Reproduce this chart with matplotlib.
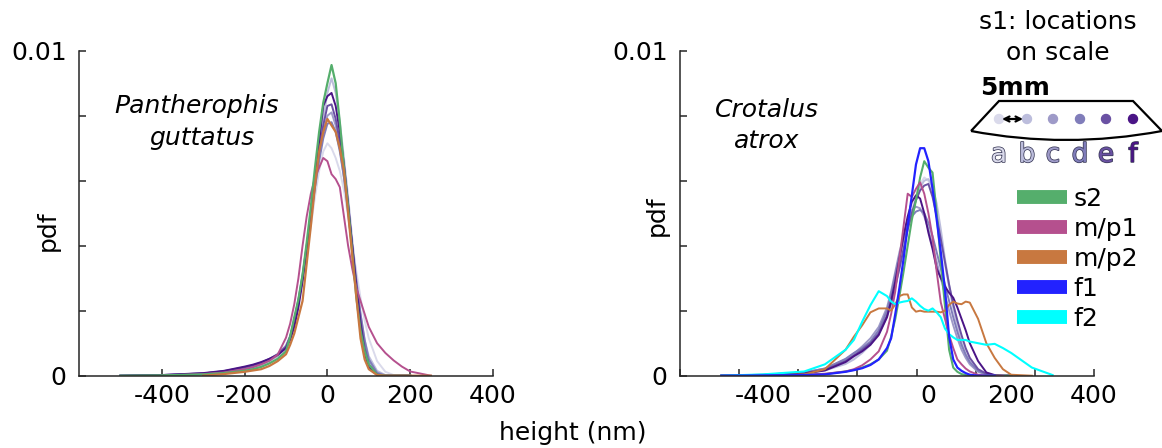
import numpy as np
import matplotlib
matplotlib.use('Agg')
import matplotlib.pyplot as plt
import matplotlib.patheffects as pe
from matplotlib.lines import Line2D
from matplotlib.path import Path
from matplotlib.patches import Circle, PathPatch

plt.rcParams['font.family'] = 'DejaVu Sans'
plt.rcParams['font.size'] = 18
plt.rcParams['axes.unicode_minus'] = False

# height grid (nm) shared by every density curve
height = [-500, -400, -300, -250, -200, -180, -160, -140, -120, -100, -90, -80, -70, -60,
          -50, -40, -30, -20, -10, 0, 10, 20, 30, 40, 50, 60, 70, 80, 90, 100,
          120, 140, 160, 180, 200, 250, 300]

# Pantherophis guttatus, pdf x 1e-3
pg_a = [0, 0.01, 0.06, 0.12, 0.22, 0.28, 0.36, 0.5, 0.68, 0.95, 1.25, 1.75, 2.3, 3.0, 3.8, 4.6, 5.5, 6.3, 6.9,
        7.15, 7.0, 6.7, 6.3, 5.7, 4.9, 4.0, 3.2, 2.4, 1.7, 1.15, 0.45, 0.12, 0.02, 0, 0, None, None]
pg_b = [0, 0.01, 0.05, 0.1, 0.18, 0.24, 0.32, 0.45, 0.6, 0.85, 1.15, 1.7, 2.3, 3.1, 4.0, 5.0, 6.1, 7.0, 7.9,
        8.7, 9.15, 8.7, 7.8, 6.7, 5.5, 4.2, 3.0, 1.9, 1.1, 0.6, 0.15, 0.02, 0, 0, 0, None, None]
pg_c = [0, 0.01, 0.06, 0.12, 0.22, 0.28, 0.36, 0.48, 0.62, 0.88, 1.2, 1.7, 2.3, 3.0, 3.9, 4.8, 5.8, 6.7, 7.5,
        8.0, 8.1, 7.7, 7.0, 6.1, 5.0, 3.9, 2.8, 1.8, 1.0, 0.5, 0.1, 0.01, 0, 0, 0, None, None]
pg_d = [0, 0.02, 0.07, 0.13, 0.24, 0.3, 0.38, 0.5, 0.65, 0.9, 1.2, 1.7, 2.35, 3.1, 4.0, 4.9, 5.8, 6.6, 7.3,
        7.75, 7.8, 7.5, 6.9, 6.1, 5.1, 4.0, 2.9, 1.9, 1.1, 0.5, 0.08, 0, 0, 0, 0, None, None]
pg_e = [0, 0.02, 0.07, 0.14, 0.26, 0.32, 0.4, 0.52, 0.66, 0.9, 1.2, 1.65, 2.25, 3.0, 3.9, 4.9, 5.9, 6.9, 7.7,
        8.3, 8.35, 7.9, 7.2, 6.3, 5.2, 4.0, 2.8, 1.7, 0.85, 0.35, 0.04, 0, 0, 0, 0, None, None]
pg_f = [0, 0.02, 0.08, 0.15, 0.28, 0.34, 0.42, 0.52, 0.64, 0.85, 1.1, 1.5, 2.1, 2.9, 3.9, 5.0, 6.1, 7.2, 8.3,
        8.6, 8.7, 8.3, 7.5, 6.5, 5.3, 4.0, 2.7, 1.6, 0.7, 0.25, 0.02, 0, 0, 0, 0, None, None]
pg_s2 = [0, 0.01, 0.04, 0.08, 0.15, 0.2, 0.27, 0.38, 0.52, 0.75, 1.2, 1.8, 2.35, 3.1, 4.1, 5.2, 6.4, 7.5, 8.4,
         9.0, 9.56, 9.0, 7.8, 6.4, 5.2, 3.8, 2.4, 1.4, 0.75, 0.35, 0.03, 0, 0, 0, 0, None, None]
pg_mp1 = [None, 0, 0.05, 0.1, 0.2, 0.26, 0.35, 0.46, 0.65, 1.17, 1.6, 2.2, 3.0, 4.0, 4.9, 5.6, 6.1, 6.4, 6.7,
          6.6, 6.2, 6.05, 5.8, 4.9, 4.0, 3.3, 2.7, 2.3, 1.9, 1.5, 1.0, 0.7, 0.47, 0.28, 0.13, 0, None]
pg_mp2 = [None, None, 0, 0.05, 0.12, 0.16, 0.2, 0.3, 0.45, 0.66, 0.95, 1.3, 1.8, 2.3, 3.45, 4.6, 5.85, 6.9, 7.5,
          7.9, 7.7, 7.5, 7.0, 6.3, 5.0, 3.7, 2.4, 1.15, 0.5, 0.2, 0.02, 0, 0, 0, 0, 0, None]

# Crotalus atrox, pdf x 1e-3
ca_a = [0, 0.02, 0.08, 0.18, 0.4, 0.55, 0.75, 1.0, 1.35, 1.9, 2.3, 2.8, 3.4, 4.0, 4.6, 5.1, 5.5, 5.9, 6.1,
        6.0, 5.6, 5.0, 4.2, 3.4, 2.7, 2.1, 1.6, 1.15, 0.8, 0.5, 0.2, 0.06, 0.01, 0, 0, None, None]
ca_b = [0, 0.02, 0.07, 0.16, 0.36, 0.5, 0.7, 0.95, 1.3, 1.8, 2.2, 2.7, 3.3, 3.9, 4.5, 5.0, 5.45, 5.8, 6.0,
        6.05, 5.8, 5.3, 4.5, 3.6, 2.8, 2.1, 1.5, 1.0, 0.65, 0.4, 0.14, 0.04, 0, 0, 0, None, None]
ca_c = [0, 0.03, 0.1, 0.22, 0.5, 0.68, 0.9, 1.15, 1.5, 2.1, 2.6, 3.2, 3.8, 4.3, 4.8, 5.1, 5.2, 5.15, 4.9,
        4.5, 4.0, 3.5, 3.0, 2.5, 2.0, 1.55, 1.15, 0.8, 0.55, 0.35, 0.12, 0.03, 0, 0, 0, None, None]
ca_d = [0, 0.03, 0.1, 0.22, 0.52, 0.7, 0.85, 1.05, 1.4, 2.0, 2.5, 3.1, 3.7, 4.2, 4.6, 4.9, 5.05, 5.1, 5.0,
        4.7, 4.3, 3.8, 3.3, 2.8, 2.3, 1.8, 1.35, 0.95, 0.65, 0.42, 0.15, 0.04, 0, 0, 0, None, None]
ca_e = [0, 0.02, 0.08, 0.18, 0.45, 0.62, 0.8, 1.0, 1.3, 1.85, 2.25, 2.75, 3.3, 3.9, 4.5, 5.0, 5.4, 5.7, 5.85,
        5.9, 5.5, 4.9, 4.2, 3.5, 2.8, 2.2, 1.7, 1.25, 0.85, 0.55, 0.2, 0.06, 0.01, 0, 0, None, None]
ca_f = [0, 0.02, 0.07, 0.16, 0.42, 0.6, 0.75, 0.95, 1.25, 1.8, 2.3, 2.9, 3.6, 4.3, 4.9, 5.35, 5.55, 5.45, 5.0,
        4.4, 3.9, 3.3, 3.0, 2.75, 2.55, 2.4, 2.1, 1.75, 1.4, 1.0, 0.45, 0.1, 0.02, 0, 0, None, None]
ca_s2 = [0, 0.01, 0.02, 0.05, 0.13, 0.18, 0.25, 0.35, 0.5, 0.77, 1.2, 1.75, 2.45, 3.2, 4.0, 4.8, 5.4, 6.1, 6.6,
         6.4, 6.25, 5.0, 3.5, 2.15, 0.8, 0.25, 0.12, 0.05, 0.02, 0, 0, 0, 0, 0, 0, None, None]
ca_mp1 = [0, 0.01, 0.03, 0.06, 0.13, 0.2, 0.32, 0.5, 0.75, 1.35, 1.9, 2.6, 3.6, 4.6, 5.6, 5.5, 5.75, 5.95, 5.6,
          5.0, 4.25, 3.2, 2.25, 1.75, 1.25, 0.85, 0.5, 0.35, 0.22, 0.13, 0.03, 0, 0, 0, None, None, None]
ca_mp2 = [None, 0, 0.04, 0.2, 0.8, 1.2, 1.55, 1.95, 2.07, 2.07, 2.0, 2.2, 2.45, 2.5, 2.5, 2.1, 1.97, 2.0, 1.97,
          1.97, 1.97, 1.97, 1.95, 2.0, 2.18, 2.28, 2.22, 2.2, 2.28, 2.25, 1.75, 1.0, 0.55, 0.2, 0.03, 0, None]
ca_f1 = [0, 0.01, 0.02, 0.04, 0.12, 0.17, 0.23, 0.33, 0.5, 0.85, 1.15, 1.9, 2.7, 3.6, 4.6, 5.55, 6.5, 7.0, 7.0,
         6.6, 5.75, 4.8, 3.8, 2.65, 1.2, 0.5, 0.25, 0.15, 0.08, 0.03, 0, 0, 0, None, None, None, None]
ca_f2 = [0, 0.04, 0.13, 0.35, 0.8, 1.1, 1.66, 2.17, 2.6, 2.45, 2.28, 2.2, 2.25, 2.28, 2.3, 2.38, 2.28, 2.15, 2.05,
         2.0, 2.07, 1.95, 1.8, 1.45, 1.28, 1.18, 1.1, 1.1, 1.1, 1.05, 1.0, 0.95, 0.98, 0.85, 0.7, 0.25, 0.02]

s1_letters = ['a', 'b', 'c', 'd', 'e', 'f']
s1_colors = ['#dadaeb', '#bcbddc', '#9e9ac8', '#807dba', '#6a51a3', '#4a1486']
other_labels = ['s2', 'm/p1', 'm/p2', 'f1', 'f2']
other_colors = ['#55ae6c', '#b5508e', '#c87840', '#2222ff', '#00ffff']

W, H = 1162, 448
fig = plt.figure(figsize=(W / 100, H / 100), dpi=100)
ax1 = fig.add_axes([79 / W, 1 - 375.7 / H, 414 / W, 325 / H])
ax2 = fig.add_axes([680 / W, 1 - 375.7 / H, 414 / W, 325 / H])

x = np.array(height, dtype=float)


def curve(v):
    return np.array(v, dtype=float) * 1e-3


for ax in (ax1, ax2):
    ax.set_xlim(-600, 400)
    ax.set_ylim(0, 0.01)
    for s in ('top', 'right'):
        ax.spines[s].set_visible(False)
    for s in ('left', 'bottom'):
        ax.spines[s].set_color('#262626')
        ax.spines[s].set_linewidth(1.1)
    ax.set_yticks(np.arange(0, 0.0101, 0.002))
    ax.set_yticklabels(['0', '', '', '', '', '0.01'])
    ax.tick_params(direction='in', length=5, width=1.1, color='#262626', labelsize=18)
    ax.tick_params(axis='y', pad=9)
    ax.tick_params(axis='x', pad=6)
    ax.patch.set_alpha(0)

# left panel
for v, c in zip([pg_a, pg_b, pg_c, pg_d, pg_e, pg_f], s1_colors):
    ax1.plot(x, curve(v), color=c, lw=1.4)
ax1.plot(x, curve(pg_mp1), color=other_colors[1], lw=1.4)
ax1.plot(x, curve(pg_s2), color=other_colors[0], lw=1.6)
ax1.plot(x, curve(pg_mp2), color=other_colors[2], lw=1.6)
ax1.set_xticks([-400, -200, 0, 200, 400])

# right panel: tick marks every 1/7 of the range, labels every 200 nm
for v, c in zip([ca_a, ca_b, ca_c, ca_d, ca_e, ca_f], s1_colors):
    ax2.plot(x, curve(v), color=c, lw=1.4)
ax2.plot(x, curve(ca_s2), color=other_colors[0], lw=1.5)
ax2.plot(x, curve(ca_mp1), color=other_colors[1], lw=1.4)
ax2.plot(x, curve(ca_mp2), color=other_colors[2], lw=1.4)
ax2.plot(x, curve(ca_f2), color=other_colors[4], lw=1.5)
ax2.plot(x, curve(ca_f1), color=other_colors[3], lw=1.6)
ax2.xaxis.remove_overlapping_locs = False
ax2.set_xticks(np.linspace(-600, 400, 8))
ax2.set_xticklabels([''] * 8)
ax2.set_xticks([-400, -200, 0, 200, 400], minor=True)
ax2.set_xticklabels(['-400', '-200', '0', '200', '400'], minor=True)
ax2.tick_params(axis='x', which='minor', length=0, pad=6, labelsize=18)

handles = [Line2D([], [], color=c, lw=10, solid_capstyle='butt') for c in other_colors]
fig.legend(handles, other_labels, loc='upper left', bbox_to_anchor=(1017 / W, 1 - 187 / H),
           frameon=False, borderpad=0, borderaxespad=0, handlelength=2.0,
           handletextpad=0.25, labelspacing=0.24, fontsize=18)

# annotation layer in pixel coordinates
ov = fig.add_axes([0, 0, 1, 1])
ov.set_xlim(0, W)
ov.set_ylim(H, 0)
ov.axis('off')

ov.text(48, 231, 'pdf', rotation=90, ha='center', va='center')
ov.text(657, 216, 'pdf', rotation=90, ha='center', va='center')
ov.text(573, 433, 'height (nm)', ha='center', va='center')

ov.text(197, 113, 'Pantherophis', style='italic', ha='center', va='baseline')
ov.text(202, 145, 'guttatus', style='italic', ha='center', va='baseline')
ov.text(767, 117, 'Crotalus', style='italic', ha='center', va='baseline')
ov.text(767, 148, 'atrox', style='italic', ha='center', va='baseline')

ov.text(1058, 22, 's1: locations', ha='center', va='center')
ov.text(1058, 53, 'on scale', ha='center', va='center')
ov.text(980, 88, '5mm', weight='bold', ha='left', va='center')

# scale outline
verts = [(971, 131), (999, 101), (1133, 101), (1162, 131), (1066, 149), (971, 131)]
codes = [Path.MOVETO, Path.LINETO, Path.LINETO, Path.LINETO, Path.CURVE3, Path.CURVE3]
ov.add_patch(PathPatch(Path(verts, codes), facecolor='none', edgecolor='k', lw=1.6, clip_on=False))

dot_x = [999, 1027, 1053, 1080, 1106, 1133]
for xx, lt, c in zip(dot_x, s1_letters, s1_colors):
    ov.add_patch(Circle((xx, 119), 4.5, color=c, clip_on=False))
    ov.text(xx, 155, lt, color=c, ha='center', va='center', fontsize=19,
            path_effects=[pe.Stroke(linewidth=1.1, foreground='#3a3a58'), pe.Normal()])
ov.annotate('', xy=(1023, 119), xytext=(1002, 119),
            arrowprops=dict(arrowstyle='<->', lw=1.6, color='k', mutation_scale=9,
                            shrinkA=0, shrinkB=0))

fig.savefig('out.png', dpi=100)
